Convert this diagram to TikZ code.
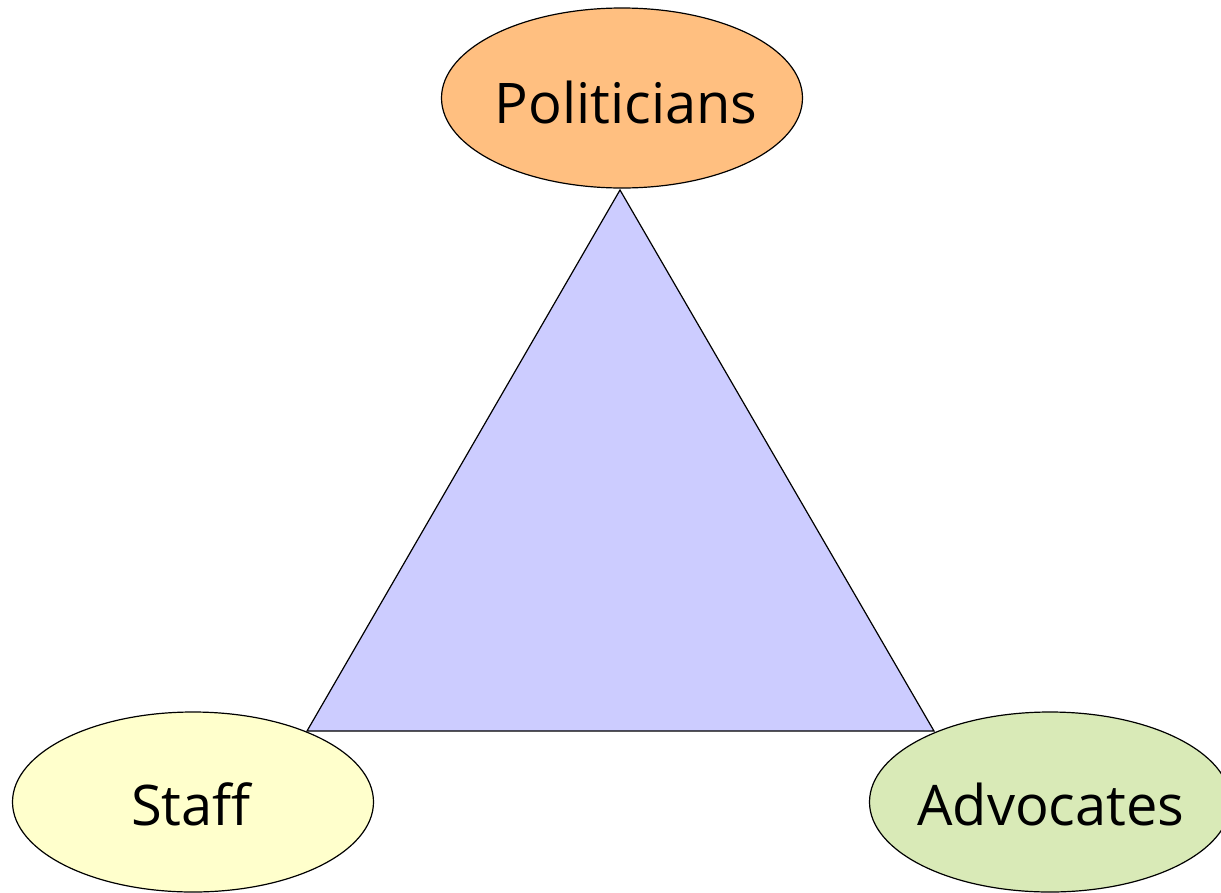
\documentclass[tikz,border=0pt]{standalone}
\usepackage{fontspec}
\setmainfont{Open Sans}
\usetikzlibrary{shapes.geometric}
\definecolor{polfill}{HTML}{FFBF80}
\definecolor{stafffill}{HTML}{FFFFCC}
\definecolor{advfill}{HTML}{D9EAB7}
\definecolor{trifill}{HTML}{CCCCFF}
\tikzset{
  role/.style={ellipse, draw=black, line width=1.2pt, minimum width=361pt, minimum height=180pt, inner sep=0pt},
  rolelabel/.style={inner sep=0pt, font=\fontsize{56}{66}\selectfont},
}
\begin{document}
\begin{tikzpicture}[x=1pt,y=-1pt]
\useasboundingbox (0,0) rectangle (1221,892);
\coordinate (apex) at (620,190);
\coordinate (bl) at (307,731);
\coordinate (br) at (934,731);
\fill[trifill] (apex) -- (bl) -- (br) -- cycle;
\draw[line width=1.2pt, line join=miter] (apex) -- (bl) -- (br) -- cycle;
\node[role, fill=polfill] (pol) at (622,98) {};
\node[role, fill=stafffill] (staff) at (193,802) {};
\node[role, fill=advfill] (adv) at (1050,802) {};
\node[rolelabel] (poltext) at (626,102) {Politicians};
\node[rolelabel] (stafftext) at (191,804) {Staff};
\node[rolelabel] (advtext) at (1051,804) {Advocates};
\end{tikzpicture}
\end{document}
